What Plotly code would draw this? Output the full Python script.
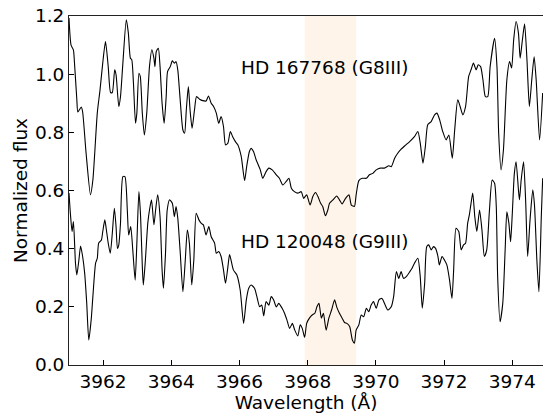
import plotly.graph_objects as go

# HD 167768 (G8III) spectrum: wavelength (Å), normalized flux
wl_a = [3961.00, 3961.06, 3961.13, 3961.16, 3961.23, 3961.26, 3961.36, 3961.40, 3961.50, 3961.63,
        3961.70, 3961.83, 3961.91, 3961.99, 3962.07, 3962.15, 3962.22, 3962.27, 3962.34, 3962.38,
        3962.46, 3962.51, 3962.58, 3962.68, 3962.74, 3962.80, 3962.84, 3962.89, 3962.95, 3962.99,
        3963.05, 3963.09, 3963.15, 3963.21, 3963.28, 3963.36, 3963.43, 3963.49, 3963.52, 3963.56,
        3963.62, 3963.67, 3963.73, 3963.79, 3963.85, 3963.89, 3963.97, 3964.03, 3964.09, 3964.14,
        3964.19, 3964.26, 3964.34, 3964.39, 3964.44, 3964.50, 3964.55, 3964.61, 3964.68, 3964.74,
        3964.83, 3964.92, 3965.02, 3965.09, 3965.17, 3965.24, 3965.32, 3965.39, 3965.46, 3965.53,
        3965.59, 3965.66, 3965.73, 3965.80, 3965.88, 3965.95, 3966.05, 3966.15, 3966.21, 3966.29,
        3966.34, 3966.41, 3966.49, 3966.61, 3966.68, 3966.78, 3966.86, 3966.96, 3967.08, 3967.17,
        3967.27, 3967.37, 3967.45, 3967.52, 3967.61, 3967.71, 3967.81, 3967.88, 3967.97, 3968.07,
        3968.15, 3968.23, 3968.30, 3968.38, 3968.44, 3968.52, 3968.59, 3968.64, 3968.74, 3968.85,
        3968.93, 3969.01, 3969.11, 3969.21, 3969.28, 3969.37, 3969.42, 3969.50, 3969.60, 3969.72,
        3969.81, 3969.91, 3970.01, 3970.13, 3970.25, 3970.38, 3970.45, 3970.55, 3970.64, 3970.74,
        3970.84, 3970.99, 3971.13, 3971.23, 3971.30, 3971.38, 3971.45, 3971.52, 3971.62, 3971.72,
        3971.79, 3971.87, 3971.96, 3972.06, 3972.14, 3972.24, 3972.31, 3972.40, 3972.47, 3972.55,
        3972.63, 3972.72, 3972.79, 3972.86, 3972.94, 3973.00, 3973.07, 3973.14, 3973.21, 3973.28,
        3973.35, 3973.48, 3973.55, 3973.60, 3973.67, 3973.74, 3973.84, 3973.92, 3973.98, 3974.04,
        3974.11, 3974.18, 3974.23, 3974.29, 3974.36, 3974.43, 3974.50, 3974.57, 3974.64, 3974.70,
        3974.80, 3974.89]
flux_a = [1.193, 1.100, 1.083, 1.040, 0.912, 0.870, 0.887, 0.870, 0.730, 0.585,
          0.636, 0.867, 0.946, 1.039, 1.112, 1.026, 0.937, 0.937, 1.015, 0.998,
          0.889, 0.923, 1.038, 1.187, 1.142, 1.055, 1.050, 0.969, 0.831, 0.866,
          1.003, 0.992, 0.866, 0.791, 0.866, 1.026, 1.084, 1.055, 1.026, 1.078,
          1.089, 1.026, 0.900, 0.831, 0.923, 1.009, 1.026, 1.046, 1.038, 1.043,
          1.015, 0.912, 0.808, 0.797, 0.877, 0.957, 0.877, 0.814, 0.877, 0.923,
          0.914, 0.909, 0.908, 0.925, 0.900, 0.889, 0.866, 0.831, 0.854, 0.820,
          0.757, 0.763, 0.803, 0.785, 0.768, 0.757, 0.717, 0.634, 0.682, 0.734,
          0.745, 0.734, 0.705, 0.671, 0.642, 0.665, 0.677, 0.671, 0.654, 0.642,
          0.619, 0.631, 0.642, 0.608, 0.596, 0.591, 0.596, 0.573, 0.585, 0.550,
          0.579, 0.593, 0.579, 0.556, 0.545, 0.513, 0.533, 0.556, 0.568, 0.581,
          0.568, 0.554, 0.573, 0.585, 0.550, 0.545, 0.585, 0.634, 0.642, 0.642,
          0.654, 0.659, 0.671, 0.677, 0.677, 0.685, 0.682, 0.711, 0.728, 0.742,
          0.753, 0.768, 0.785, 0.803, 0.763, 0.694, 0.751, 0.826, 0.837, 0.860,
          0.866, 0.843, 0.803, 0.774, 0.791, 0.711, 0.808, 0.912, 0.889, 0.860,
          0.889, 0.992, 1.015, 1.038, 1.015, 1.032, 1.026, 0.980, 0.923, 0.923,
          1.026, 1.123, 1.026, 0.797, 0.671, 0.740, 0.980, 1.043, 1.021, 1.118,
          1.181, 1.141, 1.055, 1.112, 1.173, 1.049, 0.889, 0.980, 1.060, 0.980,
          0.774, 0.935]

# HD 120048 (G9III) spectrum
wl_b = [3961.00, 3961.04, 3961.09, 3961.13, 3961.19, 3961.23, 3961.29, 3961.34, 3961.40, 3961.46,
        3961.52, 3961.58, 3961.65, 3961.70, 3961.78, 3961.83, 3961.87, 3961.95, 3961.99, 3962.05,
        3962.09, 3962.15, 3962.21, 3962.27, 3962.33, 3962.38, 3962.42, 3962.46, 3962.51, 3962.58,
        3962.64, 3962.71, 3962.75, 3962.81, 3962.87, 3962.94, 3962.99, 3963.05, 3963.10, 3963.15,
        3963.18, 3963.24, 3963.31, 3963.36, 3963.42, 3963.49, 3963.54, 3963.60, 3963.67, 3963.73,
        3963.77, 3963.83, 3963.88, 3963.95, 3964.03, 3964.09, 3964.14, 3964.19, 3964.26, 3964.34,
        3964.41, 3964.47, 3964.53, 3964.60, 3964.66, 3964.73, 3964.81, 3964.88, 3964.94, 3965.02,
        3965.10, 3965.17, 3965.27, 3965.32, 3965.39, 3965.46, 3965.53, 3965.59, 3965.66, 3965.71,
        3965.82, 3965.92, 3966.02, 3966.12, 3966.20, 3966.27, 3966.34, 3966.44, 3966.51, 3966.59,
        3966.65, 3966.71, 3966.78, 3966.86, 3966.93, 3967.00, 3967.08, 3967.15, 3967.25, 3967.32,
        3967.39, 3967.47, 3967.55, 3967.62, 3967.71, 3967.78, 3967.84, 3967.91, 3967.97, 3968.05,
        3968.13, 3968.21, 3968.27, 3968.33, 3968.40, 3968.46, 3968.54, 3968.62, 3968.70, 3968.79,
        3968.85, 3968.93, 3969.01, 3969.08, 3969.15, 3969.23, 3969.31, 3969.37, 3969.42, 3969.50,
        3969.57, 3969.64, 3969.72, 3969.79, 3969.86, 3969.93, 3970.01, 3970.09, 3970.18, 3970.25,
        3970.35, 3970.45, 3970.52, 3970.60, 3970.67, 3970.74, 3970.81, 3970.89, 3970.99, 3971.06,
        3971.13, 3971.23, 3971.30, 3971.36, 3971.43, 3971.49, 3971.55, 3971.62, 3971.69, 3971.75,
        3971.82, 3971.86, 3971.94, 3972.01, 3972.08, 3972.16, 3972.23, 3972.28, 3972.35, 3972.43,
        3972.50, 3972.57, 3972.63, 3972.69, 3972.74, 3972.79, 3972.84, 3972.90, 3972.96, 3973.04,
        3973.11, 3973.18, 3973.25, 3973.33, 3973.41, 3973.48, 3973.53, 3973.57, 3973.64, 3973.72,
        3973.79, 3973.84, 3973.90, 3973.95, 3974.00, 3974.06, 3974.11, 3974.18, 3974.21, 3974.26,
        3974.33, 3974.39, 3974.45, 3974.52, 3974.60, 3974.65, 3974.72, 3974.78, 3974.85, 3974.89]
flux_b = [0.591, 0.522, 0.459, 0.493, 0.350, 0.310, 0.361, 0.409, 0.373, 0.315,
          0.212, 0.086, 0.155, 0.235, 0.350, 0.367, 0.419, 0.430, 0.459, 0.499,
          0.470, 0.419, 0.384, 0.453, 0.539, 0.476, 0.401, 0.413, 0.487, 0.648,
          0.648, 0.533, 0.447, 0.476, 0.396, 0.292, 0.419, 0.596, 0.510, 0.338,
          0.275, 0.361, 0.487, 0.533, 0.568, 0.482, 0.533, 0.585, 0.510, 0.327,
          0.264, 0.384, 0.533, 0.568, 0.556, 0.510, 0.545, 0.505, 0.390, 0.252,
          0.361, 0.464, 0.419, 0.275, 0.361, 0.522, 0.499, 0.487, 0.482, 0.447,
          0.476, 0.441, 0.419, 0.384, 0.390, 0.373, 0.327, 0.281, 0.338, 0.380,
          0.327, 0.310, 0.258, 0.143, 0.224, 0.264, 0.275, 0.264, 0.235, 0.200,
          0.206, 0.169, 0.218, 0.206, 0.235, 0.224, 0.200, 0.212, 0.195, 0.178,
          0.155, 0.126, 0.143, 0.120, 0.100, 0.138, 0.126, 0.095, 0.143, 0.161,
          0.172, 0.178, 0.200, 0.212, 0.161, 0.178, 0.120, 0.161, 0.189, 0.224,
          0.200, 0.178, 0.161, 0.146, 0.143, 0.132, 0.086, 0.075, 0.120, 0.138,
          0.172, 0.166, 0.195, 0.183, 0.206, 0.218, 0.195, 0.224, 0.229, 0.212,
          0.189, 0.200, 0.235, 0.321, 0.298, 0.321, 0.298, 0.304, 0.320, 0.333,
          0.350, 0.367, 0.304, 0.195, 0.281, 0.407, 0.413, 0.396, 0.407, 0.401,
          0.373, 0.344, 0.373, 0.361, 0.344, 0.292, 0.229, 0.327, 0.470, 0.459,
          0.396, 0.413, 0.419, 0.487, 0.516, 0.556, 0.591, 0.510, 0.459, 0.533,
          0.464, 0.373, 0.396, 0.533, 0.636, 0.625, 0.545, 0.304, 0.149, 0.212,
          0.396, 0.527, 0.487, 0.424, 0.522, 0.659, 0.699, 0.602, 0.568, 0.636,
          0.699, 0.568, 0.373, 0.499, 0.602, 0.550, 0.361, 0.252, 0.510, 0.642]

labels = ["HD 167768 (G8III)", "HD 120048 (G9III)"]
label_x = [3968.5, 3968.5]
label_y = [1.022, 0.423]
band = [3967.91, 3969.42]
x_ticks = [3962, 3964, 3966, 3968, 3970, 3972, 3974]
y_ticks = [0.0, 0.2, 0.4, 0.6, 0.8, 1.0, 1.2]

FONT = "DejaVu Sans"
FS = 18.5

fig = go.Figure()
for wl, fl in [(wl_a, flux_a), (wl_b, flux_b)]:
    fig.add_trace(go.Scatter(x=wl, y=fl, mode="lines",
                             line=dict(color="black", width=1.1, shape="spline", smoothing=0.6),
                             showlegend=False, hoverinfo="skip"))

fig.add_shape(type="rect", xref="x", yref="paper", x0=band[0], x1=band[1], y0=0, y1=1,
              fillcolor="#fef4ea", line=dict(width=0), layer="below")

for t, x, y in zip(labels, label_x, label_y):
    fig.add_annotation(x=x, y=y, text=t, showarrow=False, xanchor="center", yanchor="middle",
                       font=dict(family=FONT, size=FS, color="black"))

fig.update_layout(
    width=543, height=413,
    margin=dict(l=69, r=0, t=16, b=48),
    paper_bgcolor="white", plot_bgcolor="white",
    font=dict(family=FONT, size=FS, color="black"),
    xaxis=dict(range=[3961, 3974.9], tickvals=x_ticks, ticks="inside", ticklen=5,
               tickcolor="black", showline=True, linecolor="#222", linewidth=1, mirror=True,
               showgrid=False, zeroline=False,
               title=dict(text="Wavelength (Å)", standoff=3, font=dict(size=FS))),
    yaxis=dict(range=[0, 1.2], tickvals=y_ticks, tickformat=".1f", ticks="inside", ticklen=5,
               tickcolor="black", showline=True, linecolor="#222", linewidth=1,
               showgrid=False, zeroline=False,
               title=dict(text="Normalized flux", standoff=2, font=dict(size=FS))),
)

fig.write_html("out.html")
